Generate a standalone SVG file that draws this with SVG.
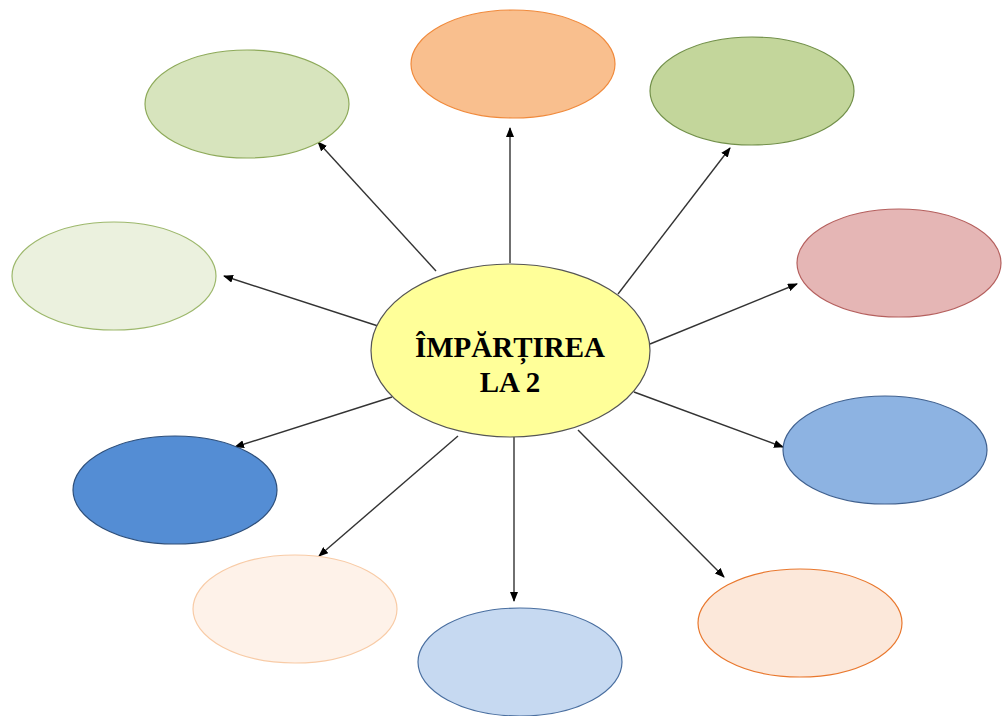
<svg xmlns="http://www.w3.org/2000/svg" width="1002" height="716" viewBox="0 0 1002 716">
<defs>
<style>
.e{stroke-width:1.2}
.c line{stroke:#333;stroke-width:1.4;marker-end:url(#ah)}
.t{font-family:"Liberation Serif","Times New Roman",serif;font-weight:bold;font-size:29px;fill:#000;text-anchor:middle}
</style>
<marker id="ah" markerWidth="10" markerHeight="8" refX="9" refY="4" orient="auto" markerUnits="userSpaceOnUse">
<path d="M0,0 L10,4 L0,8 Z" fill="#000"/>
</marker>
</defs>
<rect width="1002" height="716" fill="#fff"/>
<g id="connectors" class="c">
<line x1="436" y1="271" x2="318" y2="142"/>
<line x1="510" y1="263" x2="510" y2="128"/>
<line x1="618" y1="294" x2="730" y2="148"/>
<line x1="378" y1="326" x2="224" y2="276"/>
<line x1="650" y1="344" x2="797" y2="284"/>
<line x1="634" y1="392" x2="783" y2="447"/>
<line x1="392" y1="397" x2="235" y2="447"/>
<line x1="458" y1="436" x2="319" y2="556"/>
<line x1="514" y1="437" x2="514" y2="601"/>
<line x1="578" y1="430" x2="724" y2="577"/>
</g>
<g id="n1"><ellipse class="e" cx="247" cy="104" rx="102" ry="54" fill="#D7E4BD" stroke="#8EAA5A"/></g>
<g id="n2"><ellipse class="e" cx="513" cy="64" rx="102" ry="54" fill="#F9BF8E" stroke="#F08A3C"/></g>
<g id="n3"><ellipse class="e" cx="752" cy="91" rx="102" ry="54" fill="#C3D69B" stroke="#72904A"/></g>
<g id="n4"><ellipse class="e" cx="114" cy="276" rx="102" ry="54" fill="#EBF1DE" stroke="#9DB86C"/></g>
<g id="n5"><ellipse class="e" cx="899" cy="263" rx="102" ry="54" fill="#E5B6B5" stroke="#B5605E"/></g>
<g id="n6"><ellipse class="e" cx="885" cy="450" rx="102" ry="54" fill="#8DB3E2" stroke="#40618F"/></g>
<g id="n7"><ellipse class="e" cx="175" cy="490" rx="102" ry="54" fill="#548DD4" stroke="#2E4F7A"/></g>
<g id="n8"><ellipse class="e" cx="295" cy="609" rx="102" ry="54" fill="#FEF2E9" stroke="#F8CBA6"/></g>
<g id="n9"><ellipse class="e" cx="520" cy="662" rx="102" ry="54" fill="#C6D9F1" stroke="#4A6FA0"/></g>
<g id="n10"><ellipse class="e" cx="800" cy="623" rx="102" ry="54" fill="#FCE8DA" stroke="#E9782E"/></g>
<g id="center">
<ellipse cx="510.5" cy="350.5" rx="139.5" ry="86.5" fill="#FFFF99" stroke="#555" stroke-width="1.2"/>
<text class="t" x="510" y="357">ÎMPĂRȚIREA</text>
<text class="t" x="510" y="392">LA 2</text>
</g>
</svg>
